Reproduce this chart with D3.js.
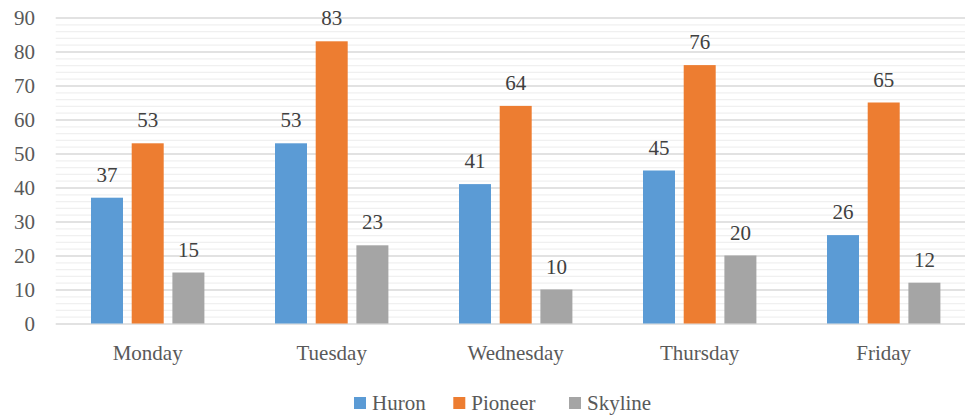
<!DOCTYPE html>
<html>
<head>
<meta charset="utf-8">
<script src="https://cdn.jsdelivr.net/npm/d3@7"></script>
<style>
  html, body { margin: 0; padding: 0; background: #fff; }
  svg { display: block; }
  svg text { font-family: "Liberation Serif", "Tinos", "Times New Roman", "DejaVu Serif", serif !important; }
</style>
</head>
<body>
<svg id="chart" width="965" height="417"></svg>
<script>
// Daily counts per site
const days = ["Monday", "Tuesday", "Wednesday", "Thursday", "Friday"];
const seriesNames = ["Huron", "Pioneer", "Skyline"];
const huron = [37, 53, 41, 45, 26];
const pioneer = [53, 83, 64, 76, 65];
const skyline = [15, 23, 10, 20, 12];
const yTicks = [0, 10, 20, 30, 40, 50, 60, 70, 80, 90];
const colors = ["#5B9BD5", "#ED7D31", "#A5A5A5"];

const seriesValues = [huron, pioneer, skyline];
const rows = days.map((d, i) => ({
  day: d,
  values: seriesNames.map((s, j) => ({ series: s, value: seriesValues[j][i] }))
}));

const FONT = '"Liberation Serif", "Tinos", "Times New Roman", "DejaVu Serif", serif';

const svg = d3.select("#chart");
const plot = { left: 55.7, right: 975.7, top: 17.5, bottom: 323.5 };

const x = d3.scaleBand().domain(days).range([plot.left, plot.right]).paddingInner(0).paddingOuter(0);
const y = d3.scaleLinear().domain([0, 90]).range([plot.bottom, plot.top]);

const barW = 32, barGap = 8.7;
const inner = d3.scaleOrdinal().domain(seriesNames)
  .range(seriesNames.map((s, j) => (j - 1) * (barW + barGap)));

// Minor gridlines every 2 units
const minor = d3.range(0, 91, 2).filter(v => v % 10 !== 0);
svg.append("g").selectAll("line").data(minor).join("line")
  .attr("x1", plot.left).attr("x2", plot.right)
  .attr("y1", d => y(d) + 0.5).attr("y2", d => y(d) + 0.5)
  .attr("stroke", "#F0F0F0").attr("stroke-width", 1.3);

// Major gridlines
svg.append("g").selectAll("line").data(yTicks).join("line")
  .attr("x1", plot.left).attr("x2", plot.right)
  .attr("y1", d => y(d) + 0.5).attr("y2", d => y(d) + 0.5)
  .attr("stroke", "#D9D9D9").attr("stroke-width", 1.3);

// Y axis labels
const yAxis = d3.axisLeft(y).tickValues(yTicks).tickSize(0).tickPadding(0);
const yg = svg.append("g").attr("transform", "translate(35,0)").call(yAxis)
  .attr("font-family", null);
yg.select(".domain").remove();
yg.selectAll("text")
  .attr("fill", "#595959")
  .style("font-family", FONT).style("font-size", "21px")
  .attr("dy", "0.34em");

// Bars
const groups = svg.append("g").selectAll("g").data(rows).join("g")
  .attr("transform", d => `translate(${x(d.day) + x.bandwidth() / 2},0)`);

groups.selectAll("rect").data(d => d.values).join("rect")
  .attr("x", d => inner(d.series) - barW / 2)
  .attr("width", barW)
  .attr("y", d => y(d.value))
  .attr("height", d => y(0) - y(d.value))
  .attr("fill", (d, j) => colors[j]);

// Value labels
groups.selectAll("text.val").data(d => d.values).join("text")
  .attr("class", "val")
  .attr("x", d => inner(d.series))
  .attr("y", d => y(d.value) - 16)
  .attr("text-anchor", "middle")
  .attr("fill", "#404040")
  .style("font-family", FONT).style("font-size", "21px")
  .text(d => d.value);

// X axis labels
const xAxis = d3.axisBottom(x).tickSize(0).tickPadding(0);
const xg = svg.append("g").attr("transform", `translate(0,${plot.bottom})`).call(xAxis)
  .attr("font-family", null);
xg.select(".domain").remove();
xg.selectAll("text")
  .attr("fill", "#595959")
  .style("font-family", FONT).style("font-size", "21px")
  .attr("dy", 0).attr("y", 36);

// Legend
const legendX = [354, 453.3, 569];
const legend = svg.append("g").selectAll("g").data(seriesNames).join("g")
  .attr("transform", (d, i) => `translate(${legendX[i]},397)`);
legend.append("rect").attr("width", 12).attr("height", 12)
  .attr("fill", (d, i) => colors[i]);
legend.append("text").attr("x", 18).attr("y", 13)
  .attr("fill", "#595959")
  .style("font-family", FONT).style("font-size", "21px")
  .text(d => d);
</script>
</body>
</html>
